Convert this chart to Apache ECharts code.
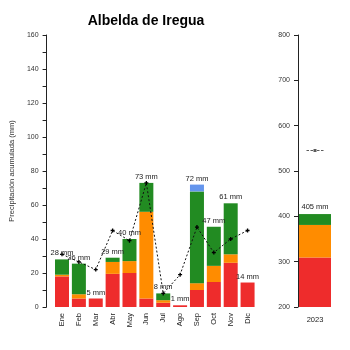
<!DOCTYPE html>
<html>
<head>
<meta charset="utf-8">
<script src="https://cdn.jsdelivr.net/npm/echarts@6/dist/echarts.min.js"></script>
<style>html,body{margin:0;padding:0;background:#fff}#c{width:350px;height:350px}</style>
</head>
<body>
<div id="c"></div>
<script>
var months = ['Ene','Feb','Mar','Abr','May','Jun','Jul','Ago','Sep','Oct','Nov','Dic'];
var redVals    = [18, 5, 5, 19.5, 20, 5, 2.5, 1, 10, 14.7, 26, 14.4];
var orangeVals = [1, 2.5, 0, 7, 7, 51, 1.5, 0, 4, 9.5, 5, 0];
var greenVals  = [9, 18, 0, 2.5, 13, 17, 4, 0, 54, 23, 30, 0];
var blueVals   = [0, 0, 0, 0, 0, 0, 0, 0, 4, 0, 0, 0];
var lineVals   = [31, 26.5, 22, 45, 39, 73, 8, 19, 47, 32, 40, 45];
var years = ['2023'];
var yearRed = [309];
var yearOrange = [72];
var yearGreen = [24];
var yearNormal = [545];

var totals = months.map(function(m, i){ return redVals[i] + orangeVals[i] + greenVals[i] + blueVals[i]; });
var yearTotals = years.map(function(y, i){ return yearRed[i] + yearOrange[i] + yearGreen[i]; });

var RED = '#EE2C2C', ORANGE = '#FF8C00', GREEN = '#228B22', BLUE = '#6495ED';
var txt = '#333';
var font = 'Liberation Sans, Arial, sans-serif';
var plusSym = 'path://M1,0h1v1h1v1h-1v1h-1v-1h-1v-1h1z';
var dashSym = 'path://M0,1h2.5v1h-2.5z M4,1h2.5v1h-2.5z M7,0h3v3h-3z M10.5,1h2.5v1h-2.5z M14.5,1h2.5v1h-2.5z';

var chart = echarts.init(document.getElementById('c'), null, {renderer: 'canvas'});
var bw = 14;
function lbl(p){ return Math.round(p.value) + ' mm'; }
chart.setOption({
  animation: false,
  textStyle: {fontFamily: font},
  title: {text: 'Albelda de Iregua', left: 141, top: 9, textAlign: 'center',
    textStyle: {fontSize: 14, fontWeight: 'bold', color: '#000', fontFamily: font}},
  grid: [
    {left: 41, top: 35, width: 215, height: 272},
    {left: 298, top: 35, width: 34, height: 272}
  ],
  xAxis: [
    {type: 'category', gridIndex: 0, data: months, boundaryGap: true,
     axisLine: {show: false}, axisTick: {show: false},
     axisLabel: {rotate: 90, fontSize: 7.5, color: '#222', margin: 6, interval: 0, fontFamily: font}},
    {type: 'category', gridIndex: 1, data: years,
     axisLine: {show: false}, axisTick: {show: false},
     axisLabel: {fontSize: 7.5, color: '#222', margin: 9, fontFamily: font}}
  ],
  yAxis: [
    {type: 'value', gridIndex: 0, min: 0, max: 160, interval: 10, offset: 7,
     name: 'Precipitación acumulada (mm)', nameLocation: 'middle', nameGap: 28,
     nameTextStyle: {fontSize: 7.5, color: txt, fontFamily: font},
     axisLine: {show: true, lineStyle: {color: '#222', width: 1}},
     axisTick: {show: true, length: 4, lineStyle: {color: '#222'}},
     splitLine: {show: false},
     axisLabel: {fontSize: 7, color: txt, margin: 8, fontFamily: font,
       formatter: function(v){ return v % 20 === 0 ? String(v) : ''; }}},
    {type: 'value', gridIndex: 1, min: 200, max: 800, interval: 100,
     axisLine: {show: true, lineStyle: {color: '#222', width: 1}},
     axisTick: {show: true, length: 4, lineStyle: {color: '#222'}},
     splitLine: {show: false},
     axisLabel: {fontSize: 7, color: txt, margin: 8, fontFamily: font}}
  ],
  series: [
    {type: 'bar', stack: 'm', xAxisIndex: 0, yAxisIndex: 0, data: redVals, barWidth: bw, itemStyle: {color: RED}},
    {type: 'bar', stack: 'm', xAxisIndex: 0, yAxisIndex: 0, data: orangeVals, barWidth: bw, itemStyle: {color: ORANGE}},
    {type: 'bar', stack: 'm', xAxisIndex: 0, yAxisIndex: 0, data: greenVals, barWidth: bw, itemStyle: {color: GREEN}},
    {type: 'bar', stack: 'm', xAxisIndex: 0, yAxisIndex: 0, data: blueVals, barWidth: bw, itemStyle: {color: BLUE}},
    {type: 'bar', xAxisIndex: 0, yAxisIndex: 0, data: totals, barWidth: bw, barGap: '-100%',
     itemStyle: {color: 'rgba(0,0,0,0)'}, z: 5,
     label: {show: true, position: 'top', distance: 2, fontSize: 7.5, color: '#222', fontFamily: font, formatter: lbl}},
    {type: 'line', xAxisIndex: 0, yAxisIndex: 0, data: lineVals, z: 4,
     symbol: plusSym, symbolSize: 4, itemStyle: {color: '#000'},
     lineStyle: {color: '#111', width: 1, type: [2, 2]}},
    {type: 'bar', stack: 'y', xAxisIndex: 1, yAxisIndex: 1, data: yearRed, barWidth: 32, itemStyle: {color: RED}},
    {type: 'bar', stack: 'y', xAxisIndex: 1, yAxisIndex: 1, data: yearOrange, barWidth: 32, itemStyle: {color: ORANGE}},
    {type: 'bar', stack: 'y', xAxisIndex: 1, yAxisIndex: 1, data: yearGreen, barWidth: 32, itemStyle: {color: GREEN}},
    {type: 'bar', xAxisIndex: 1, yAxisIndex: 1, data: yearTotals, barWidth: 32, barGap: '-100%',
     itemStyle: {color: 'rgba(0,0,0,0)'}, z: 5,
     label: {show: true, position: 'top', distance: 3, fontSize: 7.5, color: '#222', fontFamily: font, formatter: lbl}},
    {type: 'scatter', xAxisIndex: 1, yAxisIndex: 1, data: yearNormal,
     symbol: dashSym, symbolSize: [17, 3], itemStyle: {color: '#333'}}
  ]
});
</script>
</body>
</html>
